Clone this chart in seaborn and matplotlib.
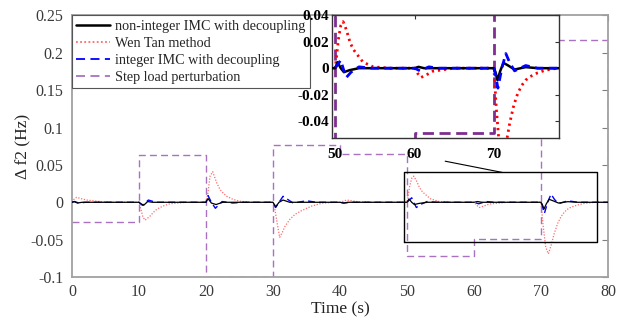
import numpy as np
import pandas as pd
import matplotlib
matplotlib.use("Agg")
import matplotlib.pyplot as plt
import seaborn as sns

# ---------------- data ----------------
t_step = [0, 10, 20, 30, 40, 50, 60, 70, 80]
v_step = [-0.027, 0.063, -0.1, 0.077, 0.065, -0.072, -0.049, 0.217, 0.05]

t_nonint = [0, 0.3, 0.8, 1.5, 10, 10.3, 10.7, 11.3, 12, 20, 20.3, 20.8, 21.5, 22.5,
            30, 30.4, 30.9, 31.5, 32.5, 40, 40.5, 41.2, 50, 50.3, 50.7, 51.1, 51.8,
            53.0, 60, 60.5, 61.2, 70, 70.2, 70.45, 70.8, 71.2, 71.8, 72.6, 74.0, 75.5, 80]
v_nonint = [0, 0.001, -0.001, 0, 0, -0.002, -0.004, 0.001, 0, 0, 0.005, -0.001, -0.003, 0,
            0, -0.006, 0.0, 0.003, 0, 0, -0.001, 0, 0, 0.0045, 0.0, -0.003, -0.0015,
            0, 0, 0.001, 0, 0, -0.003, -0.009, -0.002, 0.004, 0.002, -0.001, 0.0008, 0, 0]

t_int = [0, 0.4, 1.0, 2.0, 10, 10.5, 11.4, 12.5, 20, 20.3, 20.8, 21.4, 22.4, 24.0, 25.5,
         30, 30.4, 30.9, 31.5, 33.0, 35.0, 36.5, 40, 40.6, 41.5, 50, 50.35, 50.7, 51.0,
         51.4, 52.0, 53.0, 54.5, 60, 60.7, 61.8, 63, 70, 70.2, 70.5, 71.0, 71.5, 72.0,
         72.6, 74.0, 75.5, 80]
v_int = [0, 0.001, -0.001, 0, 0, -0.004, 0.003, 0, 0, 0.009, 0.0, -0.008, 0.001, -0.001, 0,
         0, -0.007, 0.0, 0.008, -0.001, 0.002, 0, 0, -0.001, 0, 0, 0.003, 0.006, 0.0,
         -0.007, -0.003, 0.001, 0, 0, -0.002, 0.001, 0, 0, -0.005, -0.015, 0.0, 0.011, 0.004,
         -0.002, 0.002, 0, 0]

t_wen = [0, 0.3, 0.7, 1.3, 2.2, 3.2, 4.2, 6, 10, 10.3, 10.6, 10.9, 11.6, 12.2, 12.7, 13.6,
         14.6, 17, 20, 20.3, 20.6, 21.0, 21.6, 22.1, 22.6, 23.1, 24.0, 25.1, 27,
         30, 30.3, 30.6, 31.0, 31.4, 31.8, 32.5, 33.3, 34.3, 35.8, 37.3, 39,
         40, 41.0, 42.5, 45, 50, 50.2, 50.4, 50.7, 51.0, 51.4, 51.9, 52.3, 52.8, 53.5, 54.8, 57,
         60, 60.4, 60.8, 61.5, 62.3, 65, 70, 70.3, 70.7, 71.1, 71.5, 72.0, 72.5, 73.0, 73.5,
         74.0, 74.5, 75.5, 76.5, 78, 80]
v_wen = [0, 0.004, 0.0067, 0.005, 0.003, 0.002, 0.001, 0, 0, -0.01, -0.02, -0.024, -0.019, -0.013,
         -0.009, -0.005, -0.002, 0, 0, 0.013, 0.035, 0.041, 0.026, 0.017, 0.012, 0.008, 0.004,
         0.0013, 0, 0, -0.01, -0.027, -0.047, -0.04, -0.032, -0.023, -0.016, -0.011, -0.005,
         -0.0013, 0, 0, 0.003, 0.001, 0, 0, 0.01, 0.0215, 0.032, 0.035, 0.029, 0.019, 0.014,
         0.010, 0.0046, 0.001, 0, 0, -0.004, -0.007, -0.005, -0.0023, 0, 0, -0.03, -0.06,
         -0.069, -0.058, -0.041, -0.028, -0.019, -0.013, -0.009, -0.0065, -0.0035, -0.0015, 0, 0]

yticks = [-0.1, -0.05, 0, 0.05, 0.1, 0.15, 0.2, 0.25]
ytick_labels = ["-0.1", "-0.05", "0", "0.05", "0.1", "0.15", "0.2", "0.25"]
xticks = [0, 10, 20, 30, 40, 50, 60, 70, 80]
in_yticks = [-0.04, -0.02, 0, 0.02, 0.04]
in_ytick_labels = ["-0.04", "-0.02", "0", "0.02", "0.04"]
in_xticks = [50, 60, 70]

labels = ["non-integer IMC with decoupling", "Wen Tan method",
          "integer IMC with decoupling", "Step load perturbation"]

# ---------------- styling ----------------
sns.set_theme(style="white")
plt.rcParams['font.family'] = ['Liberation Serif', 'DejaVu Serif']

fig = plt.figure(figsize=(6.27, 3.27), dpi=100)
ax = fig.add_axes([72/627, 1-277/327, (608-72)/627, (277-15.5)/327])

df_n = pd.DataFrame({"t": t_nonint, "v": v_nonint})
df_w = pd.DataFrame({"t": t_wen, "v": v_wen})
df_i = pd.DataFrame({"t": t_int, "v": v_int})
df_s = pd.DataFrame({"t": t_step, "v": v_step})

c_black = "black"
c_red_main = "#ff6a6a"
c_blue = "blue"
c_purple_main = "#a872c0"

sns.lineplot(data=df_s, x="t", y="v", ax=ax, color=c_purple_main, lw=1.0,
             linestyle=(0, (5, 3)), drawstyle="steps-post", sort=False, estimator=None,
             label=labels[3], zorder=2)
sns.lineplot(data=df_w, x="t", y="v", ax=ax, color=c_red_main, lw=0.9,
             linestyle=(0, (1, 1.3)), sort=False, estimator=None, label=labels[1], zorder=3)
sns.lineplot(data=df_i, x="t", y="v", ax=ax, color=c_blue, lw=1.0,
             linestyle=(0, (5, 3)), sort=False, estimator=None, label=labels[2], zorder=4)
sns.lineplot(data=df_n, x="t", y="v", ax=ax, color=c_black, lw=0.9,
             sort=False, estimator=None, label=labels[0], zorder=5)

ax.set_xlim(0, 80)
ax.set_ylim(-0.1, 0.25)
ax.set_xticks(xticks)
ax.set_xticklabels([str(x) for x in xticks])
ax.set_yticks(yticks)
ax.set_yticklabels(ytick_labels)
ax.tick_params(direction="in", length=4, width=0.8, colors="#7f7f7f", labelcolor="#3a3a3a",
               labelsize=11.5, top=True, right=True)
ax.tick_params(axis="x", pad=5)
ax.tick_params(axis="y", pad=6)
for s in ax.spines.values():
    s.set_color("#a0a0a0")
    s.set_linewidth(1.3)
ax.set_xlabel("Time (s)", fontsize=12.5, color="#222222", labelpad=1)
ax.set_ylabel("Δ f2 (Hz)", fontsize=12.5, color="#222222")
ax.yaxis.set_label_coords(-0.075, 0.5)

# zoom rectangle and connector
ax.plot([49.55, 78.4, 78.4, 49.55, 49.55], [-0.053, -0.053, 0.04, 0.04, -0.053],
        color="black", lw=1.0, zorder=6)
ax.plot([55.7, 64.2], [0.055, 0.04], color="black", lw=0.8, zorder=6)

handles, labs = ax.get_legend_handles_labels()
order = [labs.index(l) for l in labels]
leg = ax.legend([handles[i] for i in order], [labs[i] for i in order],
                loc="upper left", bbox_to_anchor=(0, 1), borderaxespad=0,
                fontsize=10.2, frameon=True, fancybox=False, edgecolor="#555555",
                framealpha=1, handlelength=2.4, handletextpad=0.35, labelspacing=0.28,
                borderpad=0.3)
leg.get_frame().set_linewidth(0.8)
for line in leg.get_lines():
    line.set_linewidth(1.3)
leg.get_lines()[0].set_linewidth(1.8)

# ---------------- inset ----------------
ax2 = fig.add_axes([332/627, 1-138/327, (559-332)/627, (138-15)/327])
sns.lineplot(data=df_s, x="t", y="v", ax=ax2, color="#7e2f8e", lw=2.0,
             linestyle=(0, (4, 2)), drawstyle="steps-post", sort=False, estimator=None,
             legend=False, zorder=2)
sns.lineplot(data=df_w, x="t", y="v", ax=ax2, color="red", lw=2.0,
             linestyle=(0, (0.8, 1.4)), sort=False, estimator=None, legend=False, zorder=3)
sns.lineplot(data=df_n, x="t", y="v", ax=ax2, color="black", lw=1.8,
             sort=False, estimator=None, legend=False, zorder=4)
sns.lineplot(data=df_i, x="t", y="v", ax=ax2, color="blue", lw=2.0,
             linestyle=(0, (3, 2)), sort=False, estimator=None, legend=False, zorder=5)
ax2.set_xlim(49.6, 78.2)
ax2.set_ylim(-0.0525, 0.04)
ax2.set_xticks(in_xticks)
ax2.set_xticklabels([str(x) for x in in_xticks], fontweight="bold")
ax2.set_yticks(in_yticks)
ax2.set_yticklabels(in_ytick_labels, fontweight="bold")
ax2.tick_params(direction="in", length=3, width=0.8, colors="#333333", labelcolor="black",
                labelsize=11, top=True, right=True)
ax2.tick_params(axis="x", pad=7)
ax2.tick_params(axis="y", pad=2)
ax2.set_xlabel("")
ax2.set_ylabel("")
for s in ax2.spines.values():
    s.set_color("#333333")
    s.set_linewidth(1.0)
ax2.set_facecolor("white")

fig.savefig("out.png", dpi=100)
